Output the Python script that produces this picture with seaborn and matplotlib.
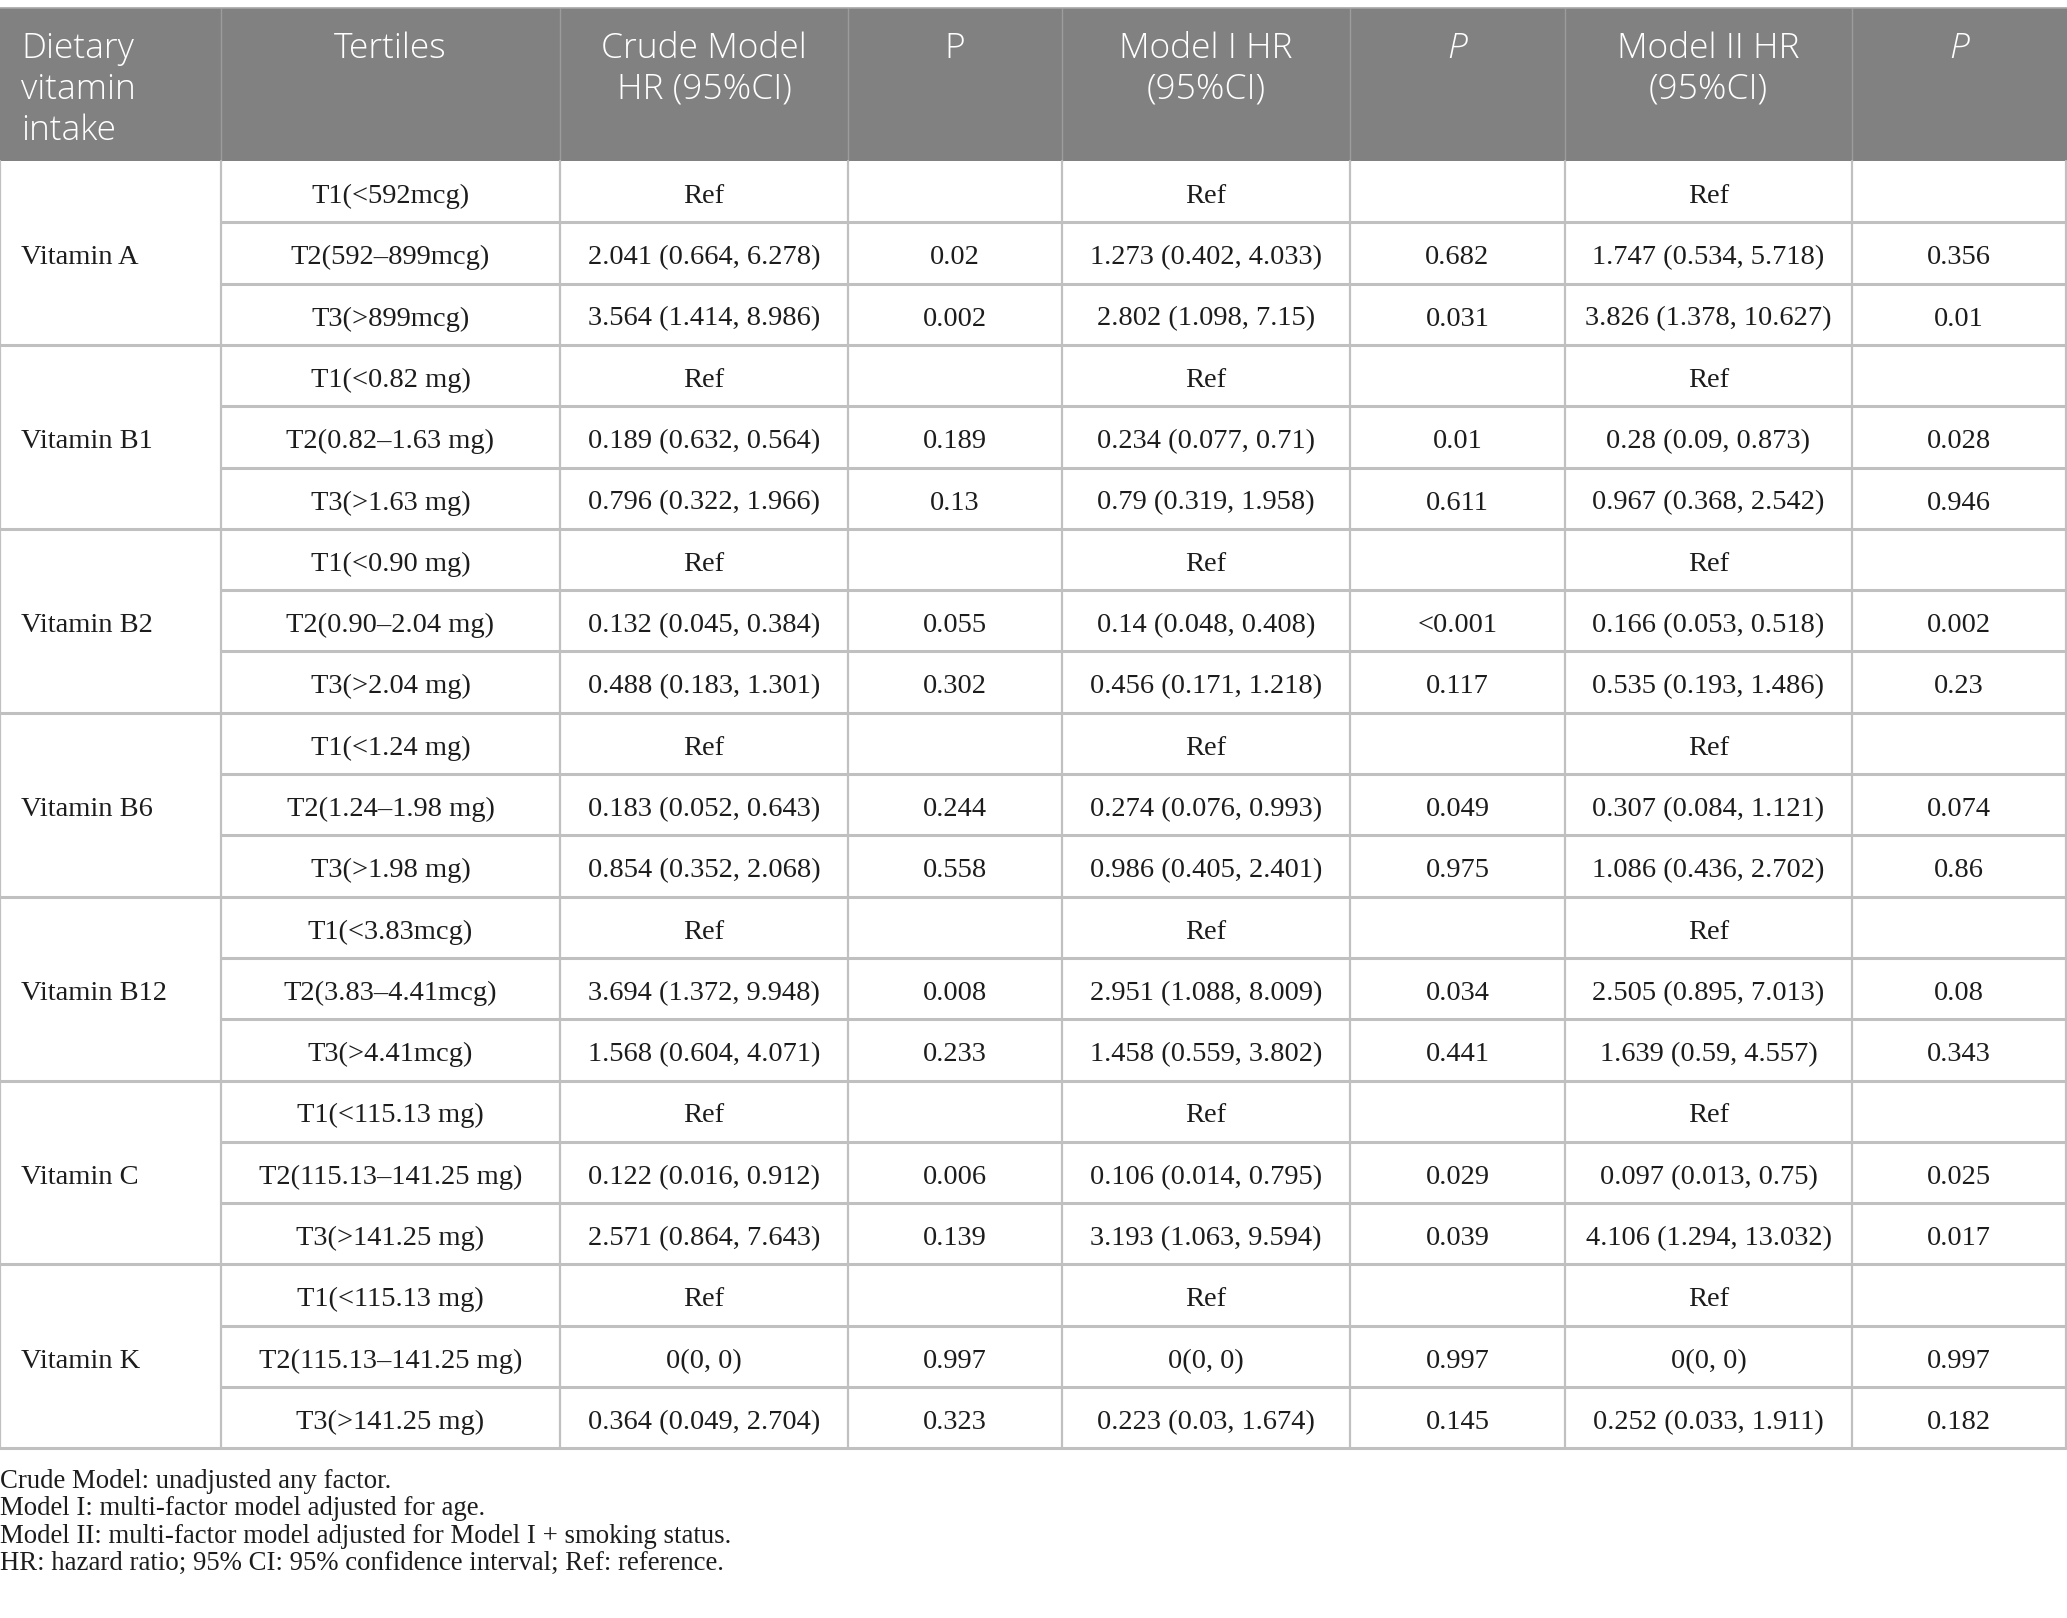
import numpy as np
import pandas as pd
import matplotlib
matplotlib.use("Agg")
import matplotlib.pyplot as plt
import seaborn as sns

# table content
headers = ["Dietary\nvitamin\nintake", "Tertiles", "Crude Model\nHR (95%CI)", "P",
           "Model I HR\n(95%CI)", "P", "Model II HR\n(95%CI)", "P"]
header_italic = [False, False, False, False, False, True, False, True]

vitamins = ["Vitamin A", "Vitamin B1", "Vitamin B2", "Vitamin B6",
            "Vitamin B12", "Vitamin C", "Vitamin K"]

tertiles = [
    "T1(<592mcg)", "T2(592–899mcg)", "T3(>899mcg)",
    "T1(<0.82 mg)", "T2(0.82–1.63 mg)", "T3(>1.63 mg)",
    "T1(<0.90 mg)", "T2(0.90–2.04 mg)", "T3(>2.04 mg)",
    "T1(<1.24 mg)", "T2(1.24–1.98 mg)", "T3(>1.98 mg)",
    "T1(<3.83mcg)", "T2(3.83–4.41mcg)", "T3(>4.41mcg)",
    "T1(<115.13 mg)", "T2(115.13–141.25 mg)", "T3(>141.25 mg)",
    "T1(<115.13 mg)", "T2(115.13–141.25 mg)", "T3(>141.25 mg)",
]

crude_hr = [
    "Ref", "2.041 (0.664, 6.278)", "3.564 (1.414, 8.986)",
    "Ref", "0.189 (0.632, 0.564)", "0.796 (0.322, 1.966)",
    "Ref", "0.132 (0.045, 0.384)", "0.488 (0.183, 1.301)",
    "Ref", "0.183 (0.052, 0.643)", "0.854 (0.352, 2.068)",
    "Ref", "3.694 (1.372, 9.948)", "1.568 (0.604, 4.071)",
    "Ref", "0.122 (0.016, 0.912)", "2.571 (0.864, 7.643)",
    "Ref", "0(0, 0)", "0.364 (0.049, 2.704)",
]
crude_p = ["", "0.02", "0.002", "", "0.189", "0.13", "", "0.055", "0.302",
           "", "0.244", "0.558", "", "0.008", "0.233", "", "0.006", "0.139",
           "", "0.997", "0.323"]

m1_hr = [
    "Ref", "1.273 (0.402, 4.033)", "2.802 (1.098, 7.15)",
    "Ref", "0.234 (0.077, 0.71)", "0.79 (0.319, 1.958)",
    "Ref", "0.14 (0.048, 0.408)", "0.456 (0.171, 1.218)",
    "Ref", "0.274 (0.076, 0.993)", "0.986 (0.405, 2.401)",
    "Ref", "2.951 (1.088, 8.009)", "1.458 (0.559, 3.802)",
    "Ref", "0.106 (0.014, 0.795)", "3.193 (1.063, 9.594)",
    "Ref", "0(0, 0)", "0.223 (0.03, 1.674)",
]
m1_p = ["", "0.682", "0.031", "", "0.01", "0.611", "", "<0.001", "0.117",
        "", "0.049", "0.975", "", "0.034", "0.441", "", "0.029", "0.039",
        "", "0.997", "0.145"]

m2_hr = [
    "Ref", "1.747 (0.534, 5.718)", "3.826 (1.378, 10.627)",
    "Ref", "0.28 (0.09, 0.873)", "0.967 (0.368, 2.542)",
    "Ref", "0.166 (0.053, 0.518)", "0.535 (0.193, 1.486)",
    "Ref", "0.307 (0.084, 1.121)", "1.086 (0.436, 2.702)",
    "Ref", "2.505 (0.895, 7.013)", "1.639 (0.59, 4.557)",
    "Ref", "0.097 (0.013, 0.75)", "4.106 (1.294, 13.032)",
    "Ref", "0(0, 0)", "0.252 (0.033, 1.911)",
]
m2_p = ["", "0.356", "0.01", "", "0.028", "0.946", "", "0.002", "0.23",
        "", "0.074", "0.86", "", "0.08", "0.343", "", "0.025", "0.017",
        "", "0.997", "0.182"]

footnotes = [
    "Crude Model: unadjusted any factor.",
    "Model I: multi-factor model adjusted for age.",
    "Model II: multi-factor model adjusted for Model I + smoking status.",
    "HR: hazard ratio; 95% CI: 95% confidence interval; Ref: reference.",
]

df = pd.DataFrame({
    "tertile": tertiles, "crude_hr": crude_hr, "crude_p": crude_p,
    "m1_hr": m1_hr, "m1_p": m1_p, "m2_hr": m2_hr, "m2_p": m2_p,
})

sns.set_theme(style="white")
plt.rcParams["font.family"] = ["Liberation Serif", "DejaVu Serif"]

W, H = 2067, 1618
fig = plt.figure(figsize=(W / 100, H / 100), dpi=100)
ax = fig.add_axes([0, 0, 1, 1])
ax.set_xlim(0, W)
ax.set_ylim(H, 0)
ax.axis("off")

col_edges = [0, 221, 560, 848, 1062, 1350, 1565, 1852, 2066]
head_top, head_bot = 8, 161
row_h = 61.3
n_rows = len(df)
table_bot = head_bot + n_rows * row_h

HEAD_BG = "#808180"
LINE = "#c0c0c0"
TXT = "#1c1c1c"
BODY_FS = 20.5

# header block
ax.add_patch(plt.Rectangle((0, head_top), W, head_bot - head_top,
                           facecolor=HEAD_BG, edgecolor="none", zorder=1))
for x in col_edges[1:-1]:
    ax.plot([x, x], [head_top, head_bot], color="#9b9c9b", lw=1.0, zorder=2)

for i, h in enumerate(headers):
    if i == 0:
        x, ha = 21, "left"
    else:
        x, ha = (col_edges[i] + col_edges[i + 1]) / 2, "center"
    ax.text(x, 31, h, ha=ha, va="top", color="white", fontsize=25.5,
            family=["Open Sans", "DejaVu Sans"], fontweight="light",
            style="italic" if header_italic[i] else "normal",
            linespacing=1.25, zorder=3)

# body grid
ax.plot([0, W], [head_top, head_top], color="#a5a6a5", lw=1.2, zorder=2)
for r in range(1, n_rows + 1):
    y = head_bot + r * row_h
    if r % 3 == 0:
        ax.plot([0, W], [y, y], color=LINE, lw=2.2, zorder=2)
    else:
        ax.plot([col_edges[1], W], [y, y], color=LINE, lw=2.2, zorder=2)
for x in col_edges:
    ax.plot([x, x], [head_bot, table_bot], color=LINE, lw=1.6, zorder=2)

# body text
cols = ["tertile", "crude_hr", "crude_p", "m1_hr", "m1_p", "m2_hr", "m2_p"]
for r, row in df.iterrows():
    yb = head_bot + r * row_h + 42
    for j, c in enumerate(cols):
        xc = (col_edges[j + 1] + col_edges[j + 2]) / 2
        ax.text(xc, yb, row[c], ha="center", va="baseline", fontsize=BODY_FS,
                color=TXT, zorder=3)

for g, v in enumerate(vitamins):
    yb = head_bot + (g * 3 + 1) * row_h + 42
    ax.text(21, yb, v, ha="left", va="baseline", fontsize=BODY_FS,
            color=TXT, zorder=3)

# footnotes
for k, t in enumerate(footnotes):
    ax.text(0, 1488 + k * 27.3, t, ha="left", va="baseline", fontsize=19.3,
            color=TXT, zorder=3)

fig.savefig("out.png", dpi=100, facecolor="white")
